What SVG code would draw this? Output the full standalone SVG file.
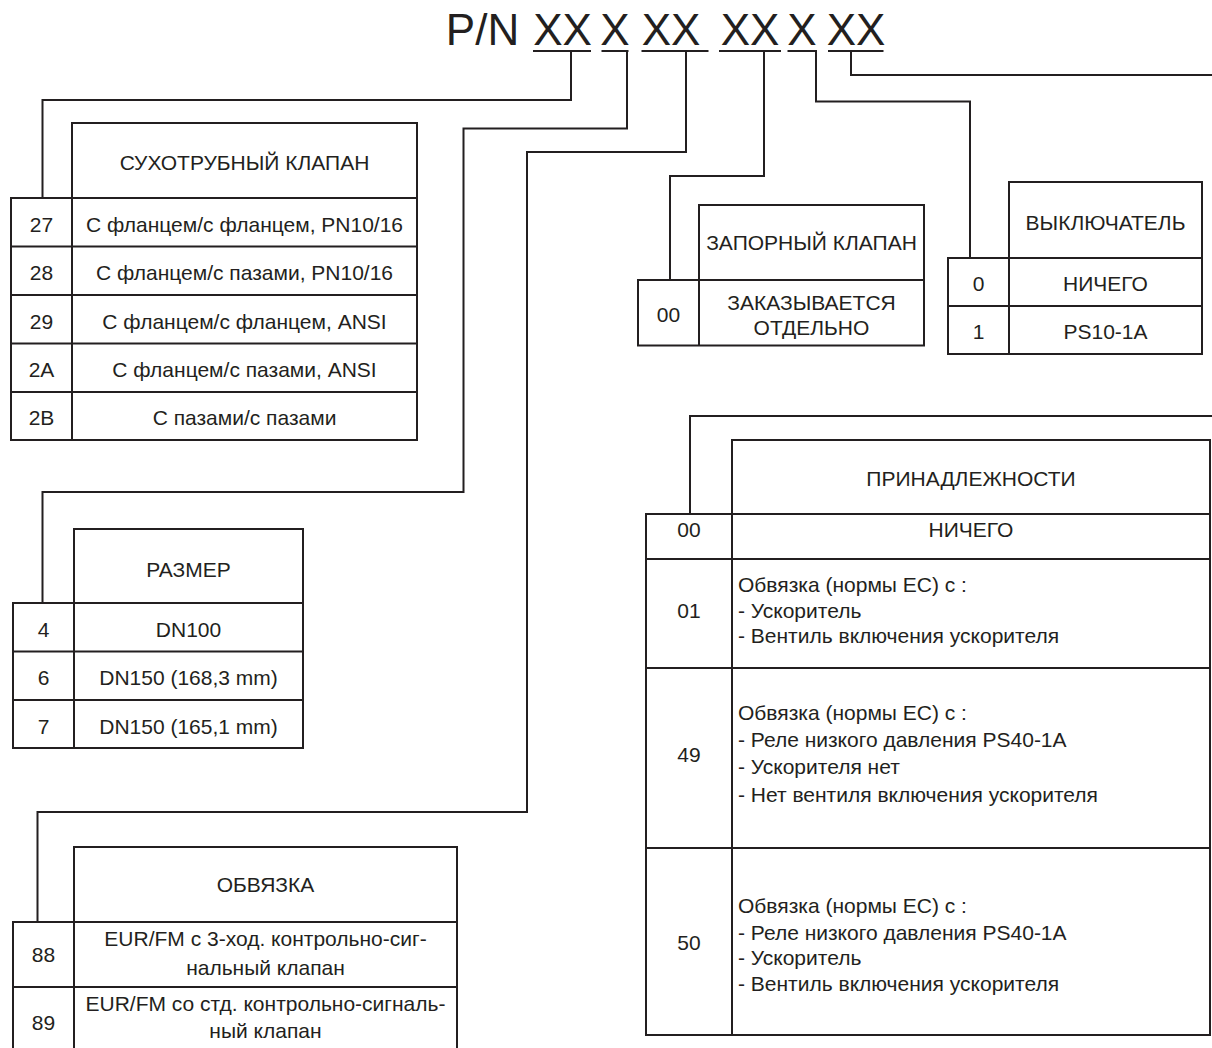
<svg xmlns="http://www.w3.org/2000/svg" width="1212" height="1048" viewBox="0 0 1212 1048">
<style>
  text { font-family: "Liberation Sans", Arial, sans-serif; fill: #231f20; font-size: 21px; }
  .c { text-anchor: middle; }
  .t { font-size: 44px; text-anchor: middle; }
  .cell { fill: none; stroke: #231f20; stroke-width: 2; }
  .ln { stroke: #231f20; stroke-width: 2; fill: none; }
  .conn { stroke: #231f20; stroke-width: 2; fill: none; stroke-linejoin: miter; }
</style>
<rect x="0" y="0" width="1212" height="1048" fill="#ffffff"/>

<g id="title">
  <text class="t" x="482.5" y="45">P/N</text>
  <text class="t" x="562.5" y="45">XX</text>
  <text class="t" x="615" y="45">X</text>
  <text class="t" x="671" y="45">XX</text>
  <text class="t" x="750" y="45">XX</text>
  <text class="t" x="802" y="45">X</text>
  <text class="t" x="856" y="45">XX</text>
  <path class="ln" d="M533 51H591 M601.5 51H628.5 M641.5 51H708.5 M719 51H781 M787.5 51H817 M828 51H883.5"/>
</g>

<g id="connectors">
  <path class="conn" d="M571 51V100H42.5V198"/>
  <path class="conn" d="M627 51V128.5H463.5V492H42.5V603"/>
  <path class="conn" d="M686 51V152H527V812H37.5V922"/>
  <path class="conn" d="M764 51V176H670V280"/>
  <path class="conn" d="M816 51V101.5H970V258"/>
  <path class="conn" d="M851 51V75H1213"/>
  <path class="conn" d="M1213 416H690V514"/>
</g>

<g id="dry-valve">
  <rect class="cell" x="72" y="123" width="345" height="75"/>
  <rect class="cell" x="11" y="198" width="406" height="242"/>
  <path class="ln" d="M72 198V440 M11 246.5H417 M11 295H417 M11 343.5H417 M11 392H417"/>
  <text class="c" x="244.5" y="170">СУХОТРУБНЫЙ КЛАПАН</text>
  <text class="c" x="41.5" y="231.5">27</text>
  <text class="c" x="244.5" y="231.5">С фланцем/с фланцем, PN10/16</text>
  <text class="c" x="41.5" y="280">28</text>
  <text class="c" x="244.5" y="280">С фланцем/с пазами, PN10/16</text>
  <text class="c" x="41.5" y="328.5">29</text>
  <text class="c" x="244.5" y="328.5">С фланцем/с фланцем, ANSI</text>
  <text class="c" x="41.5" y="377">2A</text>
  <text class="c" x="244.5" y="377">С фланцем/с пазами, ANSI</text>
  <text class="c" x="41.5" y="424.5">2B</text>
  <text class="c" x="244.5" y="424.5">С пазами/с пазами</text>
</g>

<g id="size">
  <rect class="cell" x="74" y="529" width="229" height="74"/>
  <rect class="cell" x="13" y="603" width="290" height="145"/>
  <path class="ln" d="M74 603V748 M13 651.5H303 M13 700H303"/>
  <text class="c" x="188.5" y="577">РАЗМЕР</text>
  <text class="c" x="43.5" y="636.5">4</text>
  <text class="c" x="188.5" y="636.5">DN100</text>
  <text class="c" x="43.5" y="685">6</text>
  <text class="c" x="188.5" y="685">DN150 (168,3 mm)</text>
  <text class="c" x="43.5" y="733.5">7</text>
  <text class="c" x="188.5" y="733.5">DN150 (165,1 mm)</text>
</g>

<g id="binding">
  <rect class="cell" x="74" y="847" width="383" height="75"/>
  <rect class="cell" x="13" y="922" width="444" height="130"/>
  <path class="ln" d="M74 922V1052 M13 987H457"/>
  <text class="c" x="265.5" y="892">ОБВЯЗКА</text>
  <text class="c" x="43.5" y="962">88</text>
  <text class="c" x="265.5" y="946">EUR/FM с 3-ход. контрольно-сиг-</text>
  <text class="c" x="265.5" y="974.5">нальный клапан</text>
  <text class="c" x="43.5" y="1030">89</text>
  <text class="c" x="265.5" y="1011">EUR/FM со стд. контрольно-сигналь-</text>
  <text class="c" x="265.5" y="1038">ный клапан</text>
</g>

<g id="shutoff-valve">
  <rect class="cell" x="699" y="205" width="225" height="75"/>
  <rect class="cell" x="638" y="280" width="286" height="65.5"/>
  <path class="ln" d="M699 280V345.5"/>
  <text class="c" x="811.5" y="250">ЗАПОРНЫЙ КЛАПАН</text>
  <text class="c" x="668.5" y="322">00</text>
  <text class="c" x="811.5" y="309.5">ЗАКАЗЫВАЕТСЯ</text>
  <text class="c" x="811.5" y="335">ОТДЕЛЬНО</text>
</g>

<g id="switch">
  <rect class="cell" x="1009" y="182" width="193" height="76"/>
  <rect class="cell" x="948" y="258" width="254" height="96"/>
  <path class="ln" d="M1009 258V354 M948 306H1202"/>
  <text class="c" x="1105.5" y="230">ВЫКЛЮЧАТЕЛЬ</text>
  <text class="c" x="978.5" y="291">0</text>
  <text class="c" x="1105.5" y="291">НИЧЕГО</text>
  <text class="c" x="978.5" y="338.5">1</text>
  <text class="c" x="1105.5" y="338.5">PS10-1A</text>
</g>

<g id="accessories">
  <rect class="cell" x="732" y="440" width="478" height="74"/>
  <rect class="cell" x="646" y="514" width="564" height="521"/>
  <path class="ln" d="M732 514V1035 M646 559H1210 M646 668H1210 M646 848H1210"/>
  <text class="c" x="971" y="486">ПРИНАДЛЕЖНОСТИ</text>
  <text class="c" x="689" y="537">00</text>
  <text class="c" x="971" y="537">НИЧЕГО</text>
  <text class="c" x="689" y="618">01</text>
  <text x="738" y="592">Обвязка (нормы ЕС) с :</text>
  <text x="738" y="617.5">- Ускоритель</text>
  <text x="738" y="643">- Вентиль включения ускорителя</text>
  <text class="c" x="689" y="762">49</text>
  <text x="738" y="720">Обвязка (нормы ЕС) с :</text>
  <text x="738" y="746.5">- Реле низкого давления PS40-1A</text>
  <text x="738" y="774">- Ускорителя нет</text>
  <text x="738" y="801.5">- Нет вентиля включения ускорителя</text>
  <text class="c" x="689" y="950">50</text>
  <text x="738" y="913">Обвязка (нормы ЕС) с :</text>
  <text x="738" y="939.5">- Реле низкого давления PS40-1A</text>
  <text x="738" y="965">- Ускоритель</text>
  <text x="738" y="990.5">- Вентиль включения ускорителя</text>
</g>
</svg>
